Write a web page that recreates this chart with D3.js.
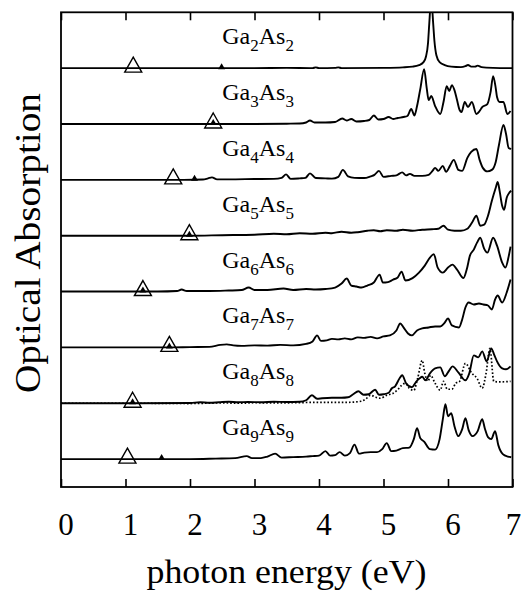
<!DOCTYPE html>
<html>
<head>
<meta charset="utf-8">
<script src="https://cdn.jsdelivr.net/npm/d3@7"></script>
<style>
  html, body { margin: 0; padding: 0; background: #fff; }
  text { font-family: "Liberation Serif", "Times New Roman", serif; fill: #000; }
</style>
</head>
<body>
<svg id="chart" width="522" height="598"></svg>
<script>
// ---------------- data ----------------
const clusterN = [2, 3, 4, 5, 6, 7, 8, 9];
// vertical offsets of each spectrum (arbitrary units)
const offsets = [420, 364, 308, 252, 196, 140, 84, 28];
const xTicks = [0, 1, 2, 3, 4, 5, 6, 7];
const xTitle = "photon energy (eV)";
const yTitle = "Optical Absorption";

// open triangle (upper marker) and small filled triangle energies, eV
const openTri = [1.12, 2.36, 1.74, 1.99, 1.27, 1.68, 1.11, 1.03];
const filledTri = [2.49, 2.36, 2.07, 1.99, 1.27, 1.68, 1.11, 1.56];

// spectra: [energy eV, absorption a.u.]
const ga2 = [[0,0],[2.4,0],[3.0,0],[3.5,0.3],[3.9,0],[3.95,0.8],[4.0,0],[4.25,0.3],[4.3,0.8],[4.35,0],[5.0,0.3],[5.3,0.8],[5.45,1.5],[5.55,3],[5.62,6],[5.66,12],[5.69,25],[5.71,45],[5.73,62],[5.75,62],[5.77,45],[5.79,27],[5.82,13],[5.87,6],[5.95,3],[6.05,1.5],[6.2,1],[6.27,2],[6.31,3.2],[6.36,1.5],[6.42,1.5],[6.46,2.5],[6.52,1],[6.7,0.3],[7.0,0]];
const ga3 = [[0,0],[2.3,0],[3.0,0],[3.5,0.3],[3.7,0.5],[3.8,1.5],[3.86,3.5],[3.93,1.5],[4.1,1.5],[4.25,2],[4.36,5.5],[4.43,3.5],[4.50,5],[4.58,2.5],[4.7,3],[4.78,4],[4.85,8.5],[4.92,4.5],[5.0,5],[5.08,7],[5.15,5],[5.22,6],[5.31,7],[5.37,8],[5.43,15],[5.48,8.5],[5.52,18],[5.57,35],[5.63,55],[5.67,36],[5.70,24],[5.74,28],[5.80,18],[5.88,10],[5.93,22],[5.98,38],[6.02,33],[6.06,39],[6.10,34],[6.14,24],[6.18,14],[6.21,12],[6.26,22],[6.31,17],[6.37,22],[6.44,10],[6.49,13],[6.53,17],[6.61,20],[6.66,32],[6.70,48],[6.74,36],[6.76,27],[6.80,22],[6.86,22],[6.92,10],[6.97,13]];
const ga4 = [[0,0],[1.9,0],[2.2,0.3],[2.28,1.5],[2.34,2.5],[2.42,0.5],[2.6,0.5],[3.0,0.8],[3.3,1],[3.42,2],[3.49,5.5],[3.56,1],[3.7,1.5],[3.79,2],[3.86,6.5],[3.95,1.8],[4.1,1.5],[4.2,1.2],[4.3,3],[4.37,10],[4.45,3.5],[4.55,2],[4.7,1.8],[4.8,3.5],[4.86,5],[4.93,9],[5.0,3],[5.12,4],[5.2,4.5],[5.29,7.5],[5.35,4.5],[5.41,6],[5.48,4],[5.6,4],[5.7,5],[5.76,9],[5.80,12],[5.85,9],[5.92,14],[5.97,8],[6.03,14],[6.09,20],[6.16,10],[6.22,9],[6.30,22],[6.36,28],[6.44,31],[6.49,20],[6.54,12],[6.61,8.5],[6.68,10],[6.74,18],[6.79,35],[6.86,55],[6.90,46],[6.94,32],[6.98,31]];
const ga5 = [[0,0],[2.0,0],[2.5,0.5],[3.0,1],[3.3,2],[3.5,1.5],[3.7,2.5],[3.9,2],[4.1,3],[4.2,2.5],[4.35,4],[4.5,3],[4.6,3.5],[4.75,5],[4.85,5.5],[4.95,4.5],[5.05,5.5],[5.2,5],[5.3,6],[5.45,5],[5.6,6],[5.75,6.5],[5.85,7],[5.93,10],[6.0,6],[6.1,5],[6.2,5],[6.3,7],[6.38,14],[6.44,20],[6.50,10],[6.56,11],[6.62,20],[6.68,35],[6.74,48],[6.77,54],[6.80,45],[6.84,30],[6.87,26],[6.91,38],[6.95,43],[6.98,45]];
const ga6 = [[0,0],[1.2,0],[1.5,0],[1.8,0.5],[1.87,2],[1.95,0.5],[2.3,0.5],[2.6,1],[2.8,1.5],[2.91,4],[3.0,1.5],[3.2,1.5],[3.45,3],[3.6,1.5],[3.8,2.5],[3.95,2],[4.1,2.5],[4.25,4],[4.35,8],[4.43,13],[4.5,6],[4.58,5],[4.66,4],[4.75,6],[4.85,9],[4.94,17],[4.99,9],[5.07,9.5],[5.15,12],[5.22,14],[5.28,20],[5.34,11],[5.45,13.5],[5.55,19],[5.64,26],[5.72,34],[5.78,37.5],[5.84,24],[5.92,19],[6.0,24],[6.07,27],[6.14,22],[6.24,13.5],[6.29,22],[6.34,36],[6.40,42],[6.45,49],[6.50,54],[6.56,43],[6.61,39],[6.70,54],[6.76,46],[6.84,29],[6.89,24],[6.94,35],[6.97,45]];
const ga7 = [[0,0],[1.7,0],[2.0,0.3],[2.3,0.5],[2.47,2.5],[2.57,3],[2.67,2],[2.8,1.5],[3.0,2],[3.2,1.8],[3.4,2.5],[3.6,2],[3.8,3.5],[3.9,6],[3.97,12],[4.03,6.5],[4.12,7],[4.2,8.5],[4.3,8],[4.4,9],[4.5,8],[4.6,10],[4.7,9.5],[4.8,10.5],[4.9,9],[5.0,11],[5.1,12],[5.2,17],[5.26,24],[5.31,20],[5.38,14],[5.44,12],[5.52,17],[5.6,19],[5.7,20],[5.8,21],[5.88,21],[5.94,24],[6.0,29],[6.06,22],[6.17,20],[6.22,28],[6.27,40],[6.32,45],[6.40,43],[6.48,44],[6.55,43],[6.62,42],[6.68,38],[6.73,48],[6.77,52],[6.84,45],[6.91,55],[6.97,68]];
const ga8 = [[0,0],[1.2,0],[2.0,0.3],[2.16,1],[2.3,0.5],[2.45,1],[2.6,1.5],[2.75,1],[2.9,1.2],[3.1,1],[3.3,1.5],[3.5,1.3],[3.7,1.5],[3.8,3],[3.89,8],[3.97,4.5],[4.05,5],[4.2,5.5],[4.35,5.5],[4.45,6],[4.53,9],[4.61,12],[4.69,8.5],[4.77,9],[4.87,13.5],[4.93,8.5],[5.0,9],[5.08,10.5],[5.13,15],[5.18,17],[5.25,25],[5.29,28],[5.35,20],[5.44,16],[5.5,21],[5.56,25],[5.6,26.5],[5.65,23],[5.72,30],[5.8,35],[5.88,36],[5.95,27],[6.02,33],[6.07,37],[6.16,31],[6.27,23],[6.33,30],[6.40,48],[6.47,46],[6.53,52],[6.6,42],[6.67,55],[6.72,48],[6.76,42],[6.84,35],[6.90,34],[6.97,37]];
const ga8dotted = [[0,0],[1.2,0],[2.0,-0.3],[2.5,0.3],[2.8,0],[3.0,0.5],[3.3,0.3],[3.6,0.5],[3.9,0.8],[4.2,0.8],[4.5,1],[4.65,2],[4.72,4],[4.80,8],[4.88,6],[4.95,5],[5.05,8],[5.15,10],[5.22,13.5],[5.28,18],[5.34,20],[5.4,15],[5.47,13],[5.53,25],[5.60,43],[5.64,30],[5.69,22],[5.73,28],[5.80,20],[5.88,13],[5.93,22],[5.99,14],[6.06,14],[6.12,20],[6.18,22],[6.27,40],[6.37,30],[6.45,25],[6.53,15],[6.59,30],[6.65,55],[6.71,22],[6.76,21.5],[6.85,21.5],[6.97,22]];
const ga9 = [[0,0],[1.5,0],[2.0,0],[2.4,0.5],[2.7,1],[2.88,3],[2.96,1],[3.1,1],[3.2,2.5],[3.32,5.5],[3.42,1.5],[3.6,2],[3.8,2.5],[3.9,3],[4.0,3.5],[4.10,8],[4.17,3.5],[4.25,4],[4.32,7],[4.4,3.5],[4.48,6],[4.55,14.5],[4.62,5.5],[4.7,6.5],[4.8,7],[4.9,7],[4.98,10],[5.05,16],[5.12,8],[5.2,8.5],[5.3,11],[5.4,11.5],[5.47,20],[5.52,31],[5.57,21],[5.63,17.5],[5.72,10],[5.8,9.5],[5.87,20],[5.92,40],[5.96,55],[6.0,43],[6.05,46],[6.1,33],[6.16,23],[6.22,30],[6.27,41],[6.32,29],[6.38,23],[6.46,28],[6.53,40],[6.57,31],[6.62,22],[6.67,20],[6.73,28],[6.78,14],[6.85,5],[6.93,2.5],[6.98,1.8]];

const spectra = [ga2, ga3, ga4, ga5, ga6, ga7, ga8, ga9];

// ---------------- layout ----------------
const plotLeft = 61, plotRight = 512.5, plotTop = 12.3, plotBottom = 487;
const svg = d3.select("#chart");

const x = d3.scaleLinear().domain([0, 7]).range([plotLeft, plotRight]);
const y = d3.scaleLinear().domain([0, 476]).range([plotBottom, plotTop]);

svg.append("defs").append("clipPath").attr("id", "plotclip")
  .append("rect").attr("x", plotLeft).attr("y", plotTop)
  .attr("width", plotRight - plotLeft).attr("height", plotBottom - plotTop);

const plot = svg.append("g").attr("clip-path", "url(#plotclip)");

const lineFor = (off) => d3.line()
  .x(d => x(d[0]))
  .y(d => y(d[1] + off))
  .curve(d3.curveMonotoneX);

spectra.forEach((s, i) => {
  plot.append("path")
    .attr("d", lineFor(offsets[i])(s))
    .attr("fill", "none")
    .attr("stroke", "#000")
    .attr("stroke-width", 1.9)
    .attr("stroke-linejoin", "round");
});

// dotted Ga8As8 spectrum
plot.append("path")
  .attr("d", lineFor(offsets[6])(ga8dotted))
  .attr("fill", "none")
  .attr("stroke", "#000")
  .attr("stroke-width", 1.7)
  .attr("stroke-dasharray", "1.6,2");

// triangle markers
clusterN.forEach((n, i) => {
  const yb = y(offsets[i]);
  const xo = x(openTri[i]);
  svg.append("path")
    .attr("d", `M${xo},${yb - 11}L${xo + 8.5},${yb + 4}L${xo - 8.5},${yb + 4}Z`)
    .attr("fill", "none").attr("stroke", "#000").attr("stroke-width", 1.4);
  const xf = x(filledTri[i]);
  svg.append("path")
    .attr("d", `M${xf},${yb - 5}L${xf + 3.5},${yb + 1}L${xf - 3.5},${yb + 1}Z`)
    .attr("fill", "#000");
});

// cluster labels with subscripts
clusterN.forEach((n, i) => {
  const t = svg.append("text")
    .attr("x", x(2.5))
    .attr("y", y(offsets[i]) - 24)
    .attr("font-size", 24);
  t.append("tspan").text("Ga");
  t.append("tspan").attr("font-size", 17).attr("dy", 7).text(n);
  t.append("tspan").attr("dy", -7).text("As");
  t.append("tspan").attr("font-size", 17).attr("dy", 7).text(n);
});

// axes (inward ticks)
const gb = svg.append("g").attr("transform", `translate(0,${plotBottom})`)
  .call(d3.axisBottom(x).tickValues(xTicks).tickSizeInner(-8).tickSizeOuter(0).tickFormat(d3.format("d")));
gb.select(".domain").remove();
gb.selectAll(".tick line").attr("stroke-width", 1.6);
gb.selectAll(".tick text")
  .attr("font-family", '"Liberation Serif", "Times New Roman", serif')
  .attr("font-size", 31)
  .attr("y", 48).attr("dy", 0)
  .attr("dx", d => d === 7 ? 0.5 : 4.5);

const gt = svg.append("g").attr("transform", `translate(0,${plotTop})`)
  .call(d3.axisTop(x).tickValues(xTicks).tickSizeInner(-8).tickSizeOuter(0).tickFormat(""));
gt.select(".domain").remove();
gt.selectAll(".tick line").attr("stroke-width", 1.6);

// frame
svg.append("rect")
  .attr("x", plotLeft).attr("y", plotTop)
  .attr("width", plotRight - plotLeft).attr("height", plotBottom - plotTop)
  .attr("fill", "none").attr("stroke", "#000").attr("stroke-width", 1.8);

// axis titles
svg.append("text")
  .attr("x", 286.5).attr("y", 583)
  .attr("text-anchor", "middle")
  .attr("font-size", 33)
  .attr("textLength", 280).attr("lengthAdjust", "spacingAndGlyphs")
  .text(xTitle);

svg.append("text")
  .attr("transform", "translate(40,243) rotate(-90)")
  .attr("text-anchor", "middle")
  .attr("font-size", 36)
  .attr("textLength", 300).attr("lengthAdjust", "spacingAndGlyphs")
  .text(yTitle);
</script>
</body>
</html>
